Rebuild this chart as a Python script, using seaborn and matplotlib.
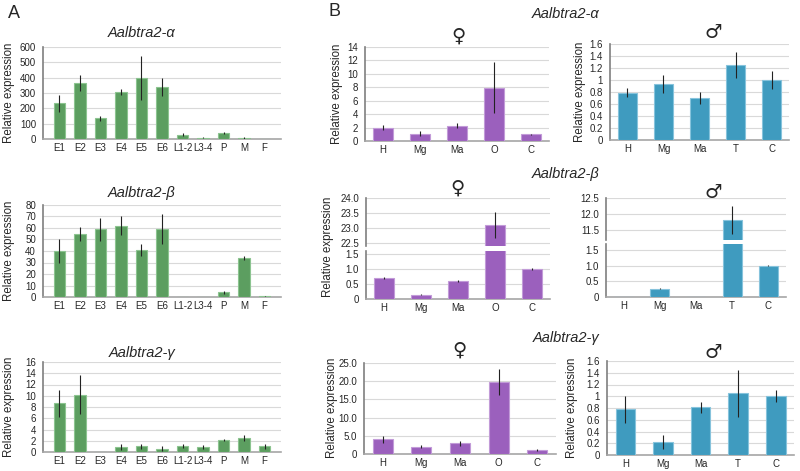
import numpy as np
import pandas as pd
import matplotlib
matplotlib.use("Agg")
import matplotlib.pyplot as plt
from matplotlib.ticker import FuncFormatter, MultipleLocator
import seaborn as sns

# ---------------- data ----------------
stages = ["E1", "E2", "E3", "E4", "E5", "E6", "L1-2", "L3-4", "P", "M", "F"]
a_alpha = [232, 365, 135, 305, 398, 340, 28, 8, 40, 6, 1]
a_alpha_err = [55, 50, 15, 20, 145, 58, 8, 4, 5, 4, 0.5]
a_beta = [40, 55, 59, 62, 41, 59, 0, 0, 4, 34, 0.5]
a_beta_err = [10, 6, 10, 8, 5, 13, 0, 0, 1, 2, 0.3]
a_gamma = [8.7, 10.2, 0, 0.9, 1.0, 0.6, 1.1, 0.9, 2.1, 2.5, 1.0]
a_gamma_err = [2.4, 3.5, 0, 0.6, 0.4, 0.4, 0.3, 0.3, 0.15, 0.6, 0.5]

tissues_f = ["H", "Mg", "Ma", "O", "C"]
tissues_m = ["H", "Mg", "Ma", "T", "C"]
f_alpha = [2.0, 1.1, 2.3, 7.9, 1.0]
f_alpha_err = [0.4, 0.4, 0.4, 3.8, 0.1]
m_alpha = [0.79, 0.94, 0.70, 1.25, 1.0]
m_alpha_err = [0.07, 0.15, 0.10, 0.22, 0.15]
f_beta = [0.70, 0.15, 0.60, 23.1, 1.0]
f_beta_err = [0.02, 0.01, 0.02, 0.43, 0.02]
m_beta = [0.0, 0.27, 0.01, 11.82, 1.0]
m_beta_err = [0.0, 0.02, 0.0, 0.43, 0.02]
f_gamma = [4.0, 2.0, 2.9, 19.8, 1.0]
f_gamma_err = [1.0, 0.4, 0.6, 3.6, 0.3]
m_gamma = [0.78, 0.22, 0.81, 1.05, 1.0]
m_gamma_err = [0.23, 0.12, 0.10, 0.40, 0.10]

titles = ["Aalbtra2-\u03b1", "Aalbtra2-\u03b2", "Aalbtra2-\u03b3"]
ylab = "Relative expression"

GREEN, GREEN_E = "#5c9e60", "#8cc490"
PURPLE, PURPLE_E = "#9b60bd", "#c29bd8"
BLUE, BLUE_E = "#3f9bbf", "#86c3dc"

# ---------------- style ----------------
sns.set_style("white")
plt.rcParams["font.family"] = ["Liberation Sans", "DejaVu Sans"]

W, H = 800, 471
fig = plt.figure(figsize=(W / 100, H / 100), dpi=100)


def axpx(x0, x1, y0, y1):
    return fig.add_axes([x0 / W, 1 - y1 / H, (x1 - x0) / W, (y1 - y0) / H])


def fmt_general(v, pos):
    return f"{v:g}"


def fmt_one(v, pos):
    return "0" if abs(v) < 1e-9 else f"{v:.1f}"


def draw(ax, cats, vals, errs, color, edge, ylim, step, fmt, bottom=True, width=0.52):
    df = pd.DataFrame({"cat": cats, "val": vals})
    sns.barplot(data=df, x="cat", y="val", ax=ax, color=color, saturation=1,
                width=width, edgecolor=edge, linewidth=0.8, errorbar=None, zorder=3)
    ax.errorbar(np.arange(len(cats)), vals, yerr=errs, fmt="none", ecolor="#222222",
                elinewidth=0.8, capsize=0, zorder=4)
    ax.set_ylim(*ylim)
    ax.yaxis.set_major_locator(MultipleLocator(step))
    ax.yaxis.set_major_formatter(FuncFormatter(fmt))
    ax.set_xlabel("")
    ax.set_ylabel("")
    ax.set_axisbelow(True)
    ax.grid(axis="y", color="#d9d9d9", linewidth=0.8)
    ax.grid(axis="x", visible=False)
    for s in ["top", "right"]:
        ax.spines[s].set_visible(False)
    ax.spines["left"].set_color("#7f7f7f")
    ax.spines["left"].set_linewidth(1.2)
    ax.spines["bottom"].set_color("#a6a6a6")
    ax.spines["bottom"].set_linewidth(1.2)
    ax.tick_params(axis="both", length=0, labelsize=7, colors="#262626")
    ax.tick_params(axis="y", pad=5)
    ax.tick_params(axis="x", pad=3)
    if not bottom:
        ax.spines["bottom"].set_visible(False)
        ax.set_xticklabels([])
    ax.set_facecolor("none")


# ---------------- panel A ----------------
ax = axpx(43, 281, 47, 139)
draw(ax, stages, a_alpha, a_alpha_err, GREEN, GREEN_E, (0, 600), 100, fmt_general, width=0.55)
ax = axpx(43, 281, 205, 297)
draw(ax, stages, a_beta, a_beta_err, GREEN, GREEN_E, (0, 80), 10, fmt_general, width=0.55)
ax = axpx(43, 281, 362, 452)
draw(ax, stages, a_gamma, a_gamma_err, GREEN, GREEN_E, (0, 16), 2, fmt_general, width=0.55)

for y, t in zip([33, 193, 353], titles):
    fig.text(142 / W, 1 - y / H, t, ha="center", va="center", fontsize=10.5, style="italic")
for y in [93, 251, 407]:
    fig.text(9 / W, 1 - y / H, ylab, rotation=90, ha="center", va="center", fontsize=8.3)

# ---------------- panel B ----------------
# alpha
ax = axpx(365, 549, 47, 141)
draw(ax, tissues_f, f_alpha, f_alpha_err, PURPLE, PURPLE_E, (0, 14), 2, fmt_general)
ax = axpx(610, 789, 44, 140)
draw(ax, tissues_m, m_alpha, m_alpha_err, BLUE, BLUE_E, (0, 1.6), 0.2, fmt_general)

# beta (broken axes)
ax = axpx(366, 550, 198, 246)
draw(ax, tissues_f, f_beta, f_beta_err, PURPLE, PURPLE_E, (22.4, 24.0), 0.5, fmt_one, bottom=False)
ax = axpx(366, 550, 251, 299)
draw(ax, tissues_f, f_beta, f_beta_err, PURPLE, PURPLE_E, (0, 1.6), 0.5, fmt_one)
ax = axpx(606, 786, 198, 240)
draw(ax, tissues_m, m_beta, m_beta_err, BLUE, BLUE_E, (11.2, 12.5), 0.5, fmt_one, bottom=False)
ax = axpx(606, 786, 244, 297)
draw(ax, tissues_m, m_beta, m_beta_err, BLUE, BLUE_E, (0, 1.7), 0.5, fmt_one)

# gamma
ax = axpx(364, 556, 363, 454)
draw(ax, tissues_f, f_gamma, f_gamma_err, PURPLE, PURPLE_E, (0, 25), 5, fmt_one)
ax = axpx(607, 794, 361, 455)
draw(ax, tissues_m, m_gamma, m_gamma_err, BLUE, BLUE_E, (0, 1.6), 0.2, fmt_general)

for y, t in zip([14, 174, 338], titles):
    fig.text(566 / W, 1 - y / H, t, ha="center", va="center", fontsize=10.5, style="italic")

for (x, y) in [(337, 94), (328, 247), (332, 408)]:
    fig.text(x / W, 1 - y / H, ylab, rotation=90, ha="center", va="center", fontsize=8.3)
for (x, y) in [(580, 92), (572, 408)]:
    fig.text(x / W, 1 - y / H, ylab, rotation=90, ha="center", va="center", fontsize=8.3)

sym_font = ["DejaVu Sans"]
for (x, y) in [(458, 36), (457, 188), (459, 350)]:
    fig.text(x / W, 1 - y / H, "\u2640", ha="center", va="center", fontsize=14,
             family=sym_font, fontweight="bold")
for (x, y) in [(713, 32), (713, 192), (713, 352)]:
    fig.text(x / W, 1 - y / H, "\u2642", ha="center", va="center", fontsize=14,
             family=sym_font, fontweight="bold")

fig.text(14 / W, 1 - 13 / H, "A", ha="center", va="center", fontsize=13)
fig.text(334 / W, 1 - 12 / H, "B", ha="center", va="center", fontsize=13)

fig.savefig("out.png", dpi=100, facecolor="white")
